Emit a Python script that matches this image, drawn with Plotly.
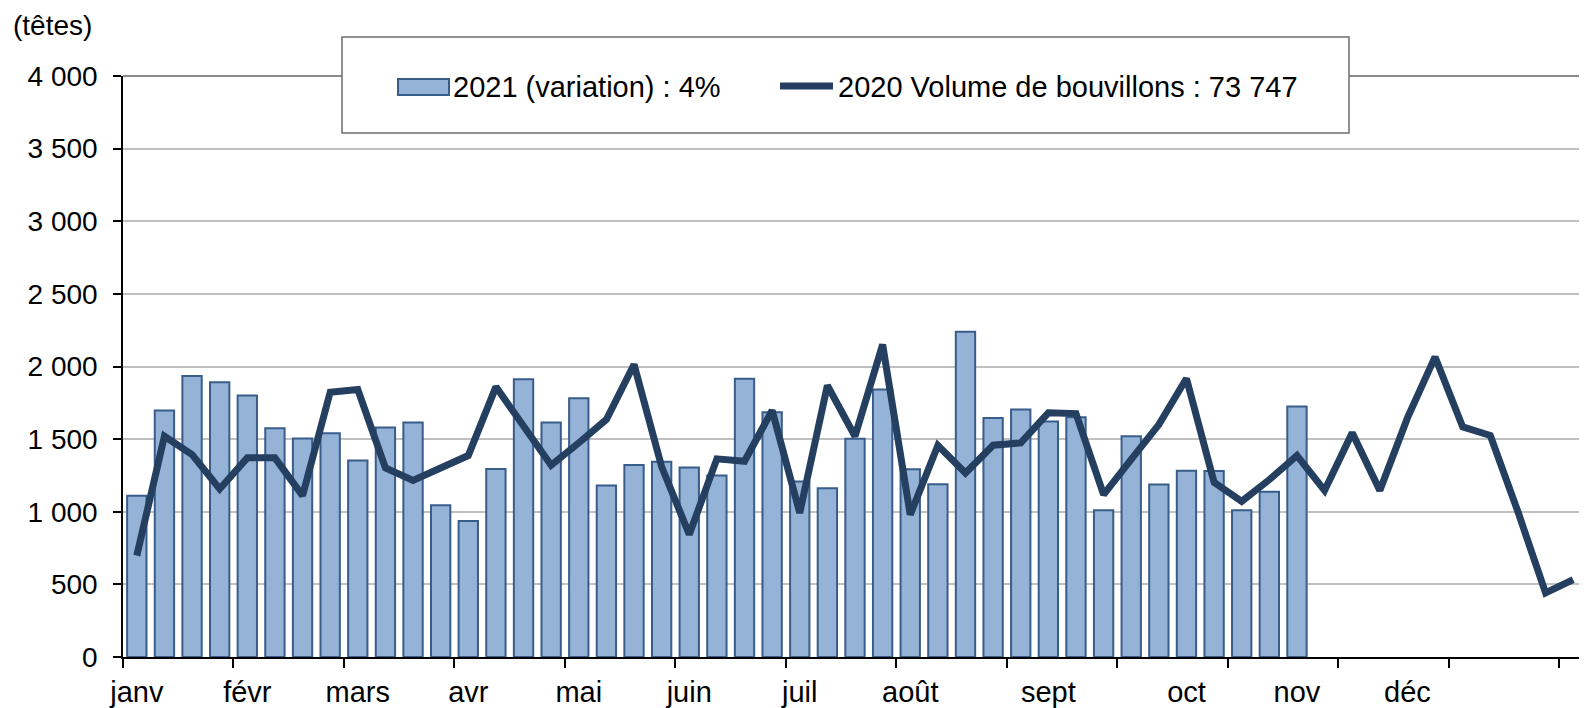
import plotly.graph_objects as go

# ---- data ----
weeks_2021 = list(range(1, 44))
bars_2021 = [1111, 1697, 1935, 1892, 1800, 1575, 1504, 1541, 1352, 1580,
             1614, 1045, 937, 1295, 1913, 1614, 1782, 1180, 1322, 1345,
             1304, 1249, 1915, 1685, 1208, 1162, 1502, 1841, 1293, 1189,
             2239, 1646, 1704, 1621, 1651, 1010, 1520, 1187, 1283, 1281,
             1010, 1137, 1724]

weeks_2020 = list(range(1, 54))
line_2020 = [698, 1520, 1394, 1157, 1371, 1371, 1111, 1823, 1841, 1302,
             1215, 1295, 1387, 1860, 1580, 1320, 1474, 1635, 2014, 1310,
             843, 1364, 1348, 1697, 992, 1869, 1520, 2151, 980, 1456,
             1267, 1458, 1474, 1681, 1676, 1118, 1360, 1600, 1917, 1203,
             1072, 1221, 1387, 1146, 1543, 1146, 1646, 2066, 1584, 1525,
             1000, 441, 533]

month_labels = ["janv", "févr", "mars", "avr", "mai", "juin", "juil",
                "août", "sept", "oct", "nov", "déc"]
month_weeks = [1, 5, 9, 13, 17, 21, 25, 29, 34, 39, 43, 47]
boundary_ticks = [0.5 + 4 * k for k in range(14)]

y_ticks = [0, 500, 1000, 1500, 2000, 2500, 3000, 3500, 4000]
y_tick_text = ["0", "500", "1 000", "1 500", "2 000", "2 500", "3 000", "3 500", "4 000"]

name_bar = "2021 (variation) : 4%"
name_line = "2020 Volume de bouvillons : 73 747"

# ---- style ----
FONT = "Liberation Sans, Arial, sans-serif"
BAR_FILL = "#95B3D7"
BAR_EDGE = "#385D8A"
LINE_COL = "#243F60"

OFF = 8  # default page body margin
W, H = 1587 - OFF, 708 - OFF
ML, MR, MT, MB = 123 - OFF, 0, 76 - OFF, 51
PW, PH = W - ML - MR, H - MT - MB


def px(x):
    """page pixel x -> paper coordinate"""
    return (x - OFF - ML) / PW


def py(y):
    """page pixel y -> paper coordinate"""
    return (H - MB - (y - OFF)) / PH


fig = go.Figure()
fig.add_trace(go.Bar(x=weeks_2021, y=bars_2021, name=name_bar,
                     marker=dict(color=BAR_FILL, line=dict(color=BAR_EDGE, width=2)),
                     showlegend=False))
fig.add_trace(go.Scatter(x=weeks_2020, y=line_2020, name=name_line, mode="lines",
                         line=dict(color=LINE_COL, width=7), showlegend=False))

shapes = [
    dict(type="line", xref="paper", yref="paper", x0=0, x1=1, y0=1, y1=1,
         line=dict(color="#8C8C8C", width=2), layer="below"),
    dict(type="line", xref="paper", yref="paper", x0=1, x1=1, y0=0, y1=1,
         line=dict(color="#C8C8C8", width=2), layer="below"),
    dict(type="rect", xref="paper", yref="paper", x0=px(342), x1=px(1349),
         y0=py(133), y1=py(37), fillcolor="white", line=dict(color="#6E6E6E", width=1.5)),
    dict(type="rect", xref="paper", yref="paper", x0=px(398), x1=px(449),
         y0=py(95), y1=py(79), fillcolor=BAR_FILL, line=dict(color=BAR_EDGE, width=2)),
    dict(type="line", xref="paper", yref="paper", x0=px(780), x1=px(833),
         y0=py(86), y1=py(86), line=dict(color=LINE_COL, width=7)),
]

annotations = [
    dict(text=name_bar, xref="paper", yref="paper", x=px(451), y=py(87),
         xanchor="left", yanchor="middle", showarrow=False,
         font=dict(family=FONT, size=29, color="black")),
    dict(text=name_line, xref="paper", yref="paper", x=px(836), y=py(87),
         xanchor="left", yanchor="middle", showarrow=False,
         font=dict(family=FONT, size=29, color="black")),
    dict(text="(têtes)", xref="paper", yref="paper", x=px(11), y=py(8),
         xanchor="left", yanchor="top", showarrow=False,
         font=dict(family=FONT, size=28, color="black")),
]

fig.update_layout(
    width=W, height=H,
    margin=dict(l=ML, r=MR, t=MT, b=MB, pad=0),
    paper_bgcolor="white", plot_bgcolor="white",
    bargap=0.3,
    showlegend=False,
    font=dict(family=FONT, size=28, color="black"),
    shapes=shapes,
    annotations=annotations,
    xaxis=dict(range=[0.5, 53.5], tickmode="array", tickvals=month_weeks,
               ticktext=month_labels, ticks="", showgrid=False, zeroline=False,
               showline=True, linecolor="black", linewidth=1.5,
               tickfont=dict(family=FONT, size=29, color="black"),
               ticklabelstandoff=8,
               minor=dict(tickmode="array", tickvals=boundary_ticks, ticks="outside",
                          ticklen=9, tickcolor="black", tickwidth=1.5, showgrid=False)),
    yaxis=dict(range=[0, 4000], tickmode="array", tickvals=y_ticks, ticktext=y_tick_text,
               ticks="outside", ticklen=8, tickcolor="black", tickwidth=1.5,
               showgrid=True, gridcolor="#C0C0C0", gridwidth=2, zeroline=False,
               showline=True, linecolor="black", linewidth=1.5,
               tickfont=dict(family=FONT, size=28, color="black"),
               ticklabelstandoff=10),
)

fig.write_html("out.html")
